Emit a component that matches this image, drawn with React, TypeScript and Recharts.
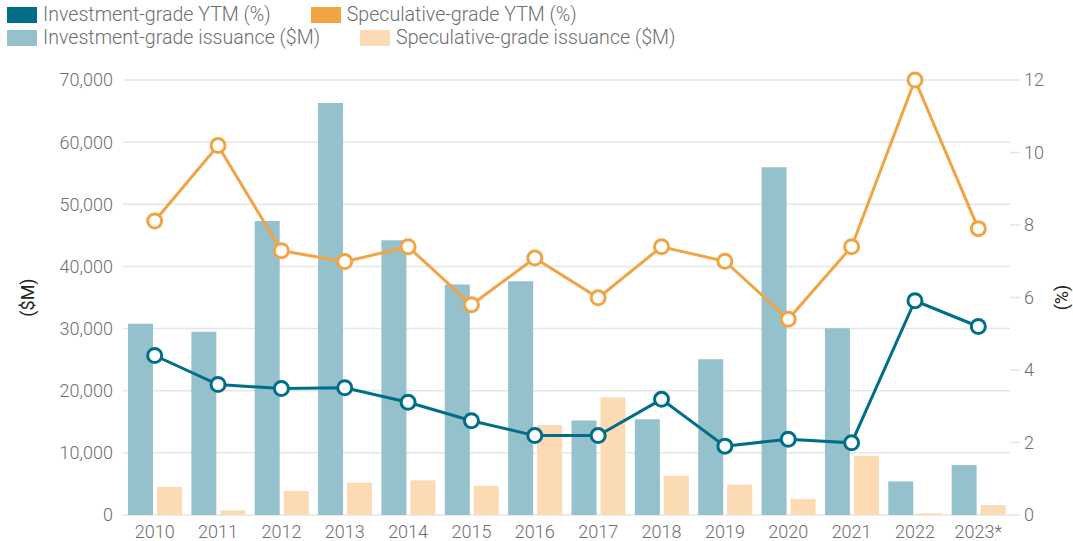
import React from "react";
import {
  ComposedChart,
  Bar,
  Line,
  XAxis,
  YAxis,
  CartesianGrid,
} from "recharts";

const years = ["2010", "2011", "2012", "2013", "2014", "2015", "2016", "2017", "2018", "2019", "2020", "2021", "2022", "2023*"];
const igIssuance = [30760, 29470, 47300, 66300, 44200, 37080, 37600, 15200, 15400, 25060, 55970, 30050, 5400, 8050];
const sgIssuance = [4500, 740, 3860, 5200, 5570, 4700, 14500, 18900, 6300, 4900, 2600, 9550, 260, 1600];
const igYtm = [4.4, 3.6, 3.49, 3.51, 3.11, 2.6, 2.19, 2.19, 3.19, 1.9, 2.09, 1.99, 5.91, 5.2];
const sgYtm = [8.11, 10.19, 7.29, 6.99, 7.4, 5.8, 7.09, 5.99, 7.4, 7.0, 5.4, 7.4, 12.0, 7.9];
const leftTicks = [0, 10000, 20000, 30000, 40000, 50000, 60000, 70000];
const rightTicks = [0, 2, 4, 6, 8, 10, 12];

const data = years.map((year, i) => ({
  year,
  igIssuance: igIssuance[i],
  sgIssuance: sgIssuance[i],
  igYtm: igYtm[i],
  sgYtm: sgYtm[i],
}));

const C = {
  igLine: "#006e89",
  sgLine: "#f2a444",
  igBar: "#95c1cd",
  sgBar: "#fbdab4",
  grid: "#e6e6e6",
  text: "#6e6e6e",
};

const FONT = "Roboto, 'Noto Sans', sans-serif";
const tick = { fontSize: 18, fill: C.text, fontFamily: FONT, fontWeight: 300 };

const legendRows = [
  [
    { label: "Investment-grade YTM (%)", color: C.igLine },
    { label: "Speculative-grade YTM (%)", color: C.sgLine },
  ],
  [
    { label: "Investment-grade issuance ($M)", color: C.igBar },
    { label: "Speculative-grade issuance ($M)", color: C.sgBar },
  ],
];

function ChartLegend() {
  return (
    <div
      style={{
        position: "absolute",
        left: 7,
        top: 3,
        fontFamily: FONT,
        fontSize: 19.6,
        fontWeight: 300,
        color: C.text,
      }}
    >
      {legendRows.map((row, r) => (
        <div key={r} style={{ display: "flex", alignItems: "center", height: 23, gap: 40 }}>
          {row.map((item) => (
            <div key={item.label} style={{ display: "flex", alignItems: "center" }}>
              <span style={{ width: 30, height: 16, background: item.color, marginRight: 6, display: "inline-block" }} />
              <span style={{ lineHeight: "23px" }}>{item.label}</span>
            </div>
          ))}
        </div>
      ))}
    </div>
  );
}

export default function App() {
  return (
    <div style={{ position: "absolute", left: 0, top: 0, width: 1073, height: 541, background: "#fff" }}>
      <ChartLegend />
      <ComposedChart
        width={1073}
        height={541}
        data={data}
        margin={{ top: 80, right: 0, left: 0, bottom: 0 }}
        barCategoryGap={5}
        barGap={4}
      >
        <CartesianGrid vertical={false} stroke={C.grid} strokeWidth={1.5} yAxisId="left" />
        <XAxis
          dataKey="year"
          tick={tick}
          tickLine={false}
          axisLine={false}
          tickSize={0}
          tickMargin={10}
          height={26}
          interval={0}
        />
        <YAxis
          yAxisId="left"
          domain={[0, 70000]}
          ticks={leftTicks}
          tick={tick}
          tickFormatter={(v: number) => v.toLocaleString("en-US")}
          tickLine={false}
          axisLine={false}
          tickSize={0}
          tickMargin={10}
          width={123}
          label={{
            value: "($M)",
            angle: -90,
            position: "insideLeft",
            offset: 28,
            style: { textAnchor: "middle", fontSize: 18, fill: "#222", fontFamily: FONT },
          }}
        />
        <YAxis
          yAxisId="right"
          orientation="right"
          domain={[0, 12]}
          ticks={rightTicks}
          tick={tick}
          tickLine={{ stroke: C.grid, strokeWidth: 1.5 }}
          axisLine={false}
          tickSize={10}
          tickMargin={4}
          width={63}
          label={{
            value: "(%)",
            angle: -90,
            position: "insideRight",
            offset: 11,
            style: { textAnchor: "middle", fontSize: 18, fill: "#222", fontFamily: FONT },
          }}
        />
        <Bar yAxisId="left" dataKey="igIssuance" fill={C.igBar} isAnimationActive={false} />
        <Bar yAxisId="left" dataKey="sgIssuance" fill={C.sgBar} isAnimationActive={false} />
        <Line
          yAxisId="right"
          dataKey="sgYtm"
          stroke={C.sgLine}
          strokeWidth={3}
          dot={{ r: 7, fill: "#fff", stroke: C.sgLine, strokeWidth: 3 }}
          activeDot={false}
          isAnimationActive={false}
        />
        <Line
          yAxisId="right"
          dataKey="igYtm"
          stroke={C.igLine}
          strokeWidth={3}
          dot={{ r: 7, fill: "#fff", stroke: C.igLine, strokeWidth: 3 }}
          activeDot={false}
          isAnimationActive={false}
        />
      </ComposedChart>
    </div>
  );
}
